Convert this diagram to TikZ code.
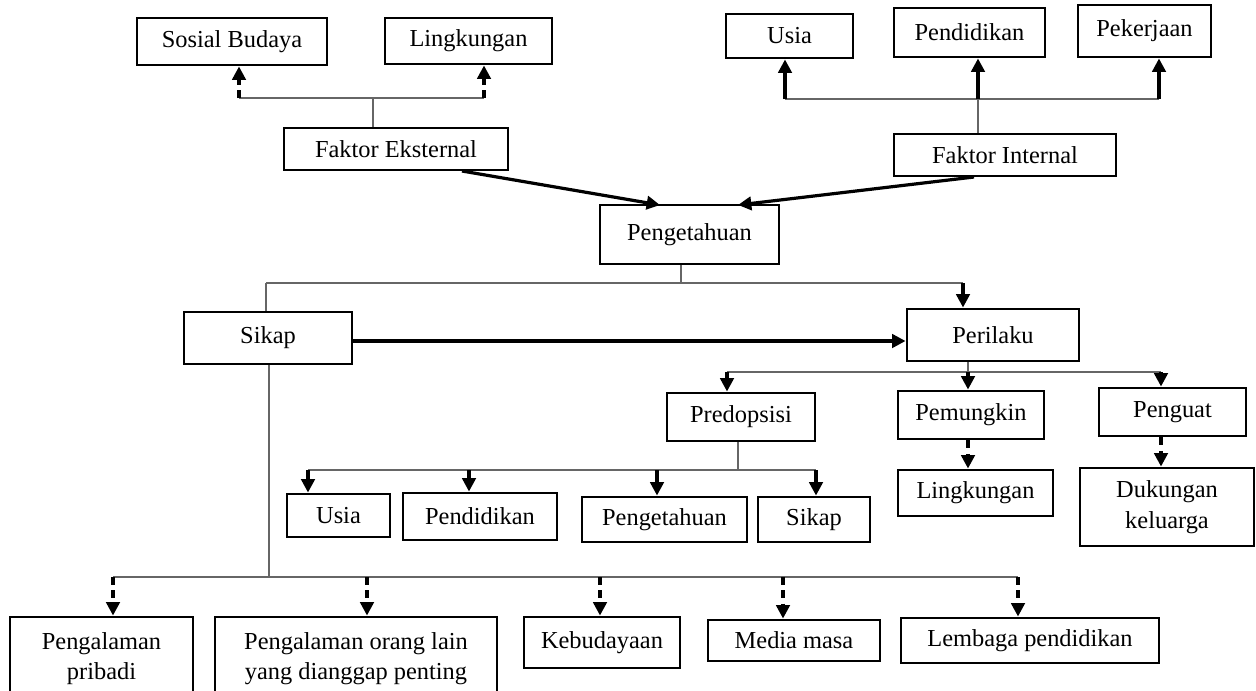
\documentclass[tikz,border=0pt]{standalone}
\usepackage{fontspec}
\setmainfont{Liberation Serif}
\usetikzlibrary{arrows.meta}
\newcommand\mybox[6]{\node[box, minimum width={(#4-#2)*0.75pt}, minimum height={(#5-#3)*0.75pt}] (#1) at ({(#2+#4)/2},{(#3+#5)/2}) {#6};}
\begin{document}
\begin{tikzpicture}[x=0.75pt,y=-0.75pt,
  box/.style={draw, line width=2.2pt, inner sep=0pt, align=center, font=\fontsize{18.3}{23}\selectfont},
  thinline/.style={draw=black!60, line width=1pt},
  arr/.style={draw=black, line width=2.4pt, -{Triangle[width=10pt,length=10pt]}},
  darr/.style={arr, dash pattern=on 6pt off 4pt}]
\fill[white] (0,0) rectangle (1256,690);
\useasboundingbox (0,0) rectangle (1256,690);

% boxes
\mybox{sosial}{137}{18}{327}{65}{Sosial Budaya}
\mybox{lingTop}{385}{18}{552}{64}{Lingkungan}
\mybox{eks}{284}{128}{508}{170}{Faktor Eksternal}
\mybox{usiaTop}{726}{14}{853}{58}{Usia}
\mybox{pendTop}{894}{8}{1045}{57}{Pendidikan}
\mybox{pek}{1078}{5}{1211}{57}{Pekerjaan}
\mybox{int}{894}{134}{1116}{176}{Faktor Internal}
\mybox{peng}{600}{205}{779}{264}{Pengetahuan}
\mybox{sikap}{184}{312}{352}{364}{Sikap}
\mybox{peri}{907}{309}{1079}{361}{Perilaku}
\mybox{pred}{667}{393}{815}{441}{Predopsisi}
\mybox{pemu}{898}{391}{1044}{439}{Pemungkin}
\mybox{penguat}{1099}{388}{1246}{436}{Penguat}
\mybox{lingMid}{898}{470}{1053}{516}{Lingkungan}
\mybox{duk}{1080}{468}{1254}{546}{Dukungan\\keluarga}
\mybox{usiaMid}{287}{494}{390}{537}{Usia}
\mybox{pendMid}{403}{493}{557}{540}{Pendidikan}
\mybox{pengMid}{582}{497}{747}{542}{Pengetahuan}
\mybox{sikapMid}{758}{497}{870}{542}{Sikap}
\mybox{pp}{10}{617}{193}{700}{Pengalaman\\pribadi}
\mybox{pol}{215}{617}{497}{700}{Pengalaman orang lain\\yang dianggap penting}
\mybox{keb}{524}{617}{680}{668}{Kebudayaan}
\mybox{media}{708}{620}{880}{661}{Media masa}
\mybox{lemb}{901}{618}{1159}{663}{Lembaga pendidikan}

% top left: Faktor Eksternal branches
\coordinate (ja) at (373,98);
\coordinate (jaL) at (239,98);
\coordinate (jaR) at (484,98);
\draw[thinline] (eks.north -| ja) -- (ja);
\draw[thinline] (jaL) -- (jaR);
\draw[darr] (jaL) -- (sosial.south -| jaL);
\draw[darr] (jaR) -- (lingTop.south -| jaR);

% top right: Faktor Internal branches
\coordinate (jb) at (978,99);
\coordinate (jbL) at (785,99);
\coordinate (jbR) at (1159,99);
\draw[thinline] (int.north -| jb) -- (jb);
\draw[thinline] (jbL) -- (jbR);
\draw[arr] (jbL) -- (usiaTop.south -| jbL);
\draw[arr] (jb) -- (pendTop.south -| jb);
\draw[arr] (jbR) -- (pek.south -| jbR);

% factors to Pengetahuan
\coordinate (eA) at (462,171);
\coordinate (eB) at (660,205);
\coordinate (iA) at (974,177);
\coordinate (iB) at (738,205);
\draw[arr] (eA) -- (eB);
\draw[arr] (iA) -- (iB);

% Pengetahuan to Sikap / Perilaku
\coordinate (jc) at (681,283);
\coordinate (jcL) at (266,283);
\coordinate (jcR) at (963,283);
\draw[thinline] (peng.south -| jc) -- (jc);
\draw[thinline] (jcL) -- (jcR);
\draw[thinline] (jcL) -- (sikap.north -| jcL);
\draw[arr] (jcR) -- (peri.north -| jcR);

% Sikap to Perilaku
\coordinate (sp) at (352,341);
\draw[arr] (sp) -- (peri.west |- sp);

% Perilaku branches
\coordinate (jd) at (968,372);
\coordinate (jdL) at (727,372);
\coordinate (jdR) at (1161,372);
\draw[thinline] (peri.south -| jd) -- (jd);
\draw[thinline] (jdL) -- (jdR);
\draw[arr] (jdL) -- (pred.north -| jdL);
\draw[arr] (jd) -- (pemu.north -| jd);
\draw[arr] (jdR) -- (penguat.north -| jdR);
\draw[darr] (pemu.south -| jd) -- (lingMid.north -| jd);
\draw[darr] (penguat.south -| jdR) -- (duk.north -| jdR);

% Predopsisi branches
\coordinate (je) at (738,470);
\coordinate (je1) at (308,470);
\coordinate (je2) at (469,470);
\coordinate (je3) at (657,470);
\coordinate (je4) at (816,470);
\draw[thinline] (pred.south -| je) -- (je);
\draw[thinline] (je1) -- (je4);
\draw[arr] (je1) -- (usiaMid.north -| je1);
\draw[arr] (je2) -- (pendMid.north -| je2);
\draw[arr] (je3) -- (pengMid.north -| je3);
\draw[arr] (je4) -- (sikapMid.north -| je4);

% Sikap branches
\coordinate (jf) at (269,577);
\coordinate (jf1) at (113,577);
\coordinate (jf2) at (367,577);
\coordinate (jf3) at (600,577);
\coordinate (jf4) at (783,577);
\coordinate (jf5) at (1018,577);
\draw[thinline] (sikap.south -| jf) -- (jf);
\draw[thinline] (jf1) -- (jf5);
\draw[darr] (jf1) -- (pp.north -| jf1);
\draw[darr] (jf2) -- (pol.north -| jf2);
\draw[darr] (jf3) -- (keb.north -| jf3);
\draw[darr] (jf4) -- (media.north -| jf4);
\draw[darr] (jf5) -- (lemb.north -| jf5);
\end{tikzpicture}
\end{document}
